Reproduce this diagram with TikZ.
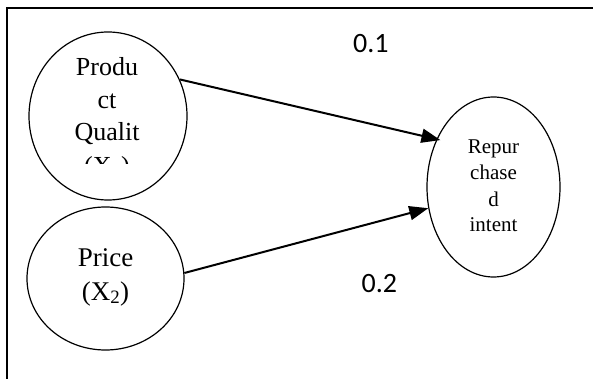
\documentclass[tikz,border=0pt]{standalone}
\usepackage{fontspec}
\setmainfont{Liberation Serif}
\newfontfamily\calfont{Carlito}
\usetikzlibrary{shapes.geometric,arrows.meta}
\begin{document}
\begin{tikzpicture}[x=1pt,y=-1pt,
  var/.style={draw,ellipse,line width=1.2pt,inner sep=0pt},
  conn/.style={line width=2pt,-{Triangle[length=19pt,width=14pt]}},
  big/.style={anchor=base,inner sep=0pt,font=\fontsize{26}{30}\selectfont},
  bigp/.style={anchor=base,inner sep=0pt,font=\fontsize{27}{30}\selectfont},
  small/.style={anchor=base,inner sep=0pt,font=\fontsize{21}{24}\selectfont},
  coef/.style={anchor=base west,inner sep=0pt,font=\calfont\fontsize{28}{30}\selectfont}]
\useasboundingbox (0,0) rectangle (593,379);
\draw[line width=2pt] (6.5,379) -- (6.5,8.3) -- (593,8.3);
% variables
\node[var,minimum width=158pt,minimum height=168pt] (pq) at (108,116) {};
\node[var,minimum width=157pt,minimum height=143pt] (pr) at (105.5,278.5) {};
\node[var,minimum width=133pt,minimum height=180pt] (ri) at (493.5,187) {};
% product quality text
\node[big] (pq1) at (107,75.7) {Produ};
\node[big] (pq2) at (107,109) {ct};
\node[big] (pq3) at (107,141) {Qualit};
\begin{scope}
\clip (40,150) rectangle (180,163.5);
\node[big] (pq4) at (107,175) {(X\textsubscript{1})};
\end{scope}
% price text
\node[bigp] (pr1) at (105.5,266) {Price};
\node[bigp] (pr2) at (105.5,300) {(X\textsubscript{2})};
% repurchase text
\node[small] (ri1) at (493.5,154) {Repur};
\node[small] (ri2) at (493.5,180) {chase};
\node[small] (ri3) at (493.5,206) {d};
\node[small] (ri4) at (493.5,231.5) {intent};
% connectors
\draw[conn,shorten >=-4pt] (pq.27) -- (ri.140);
\draw[conn] (pr.4) -- (ri.198);
% coefficients
\node[coef] (c1) at (353,52.3) {0.1};
\node[coef] (c2) at (361.5,292.3) {0.2};
\end{tikzpicture}
\end{document}
